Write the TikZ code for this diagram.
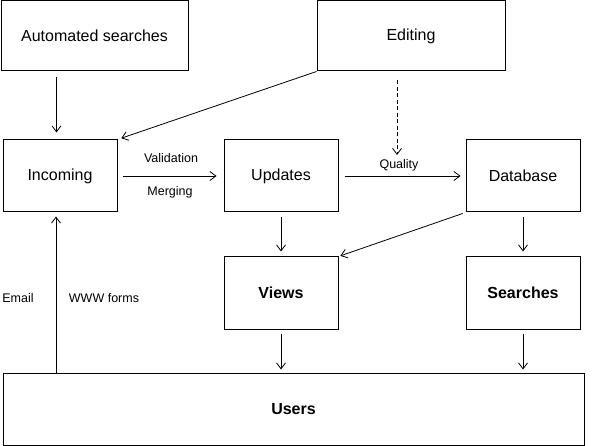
\documentclass[tikz,border=0pt]{standalone}
\usepackage{fontspec}
\setmainfont{Liberation Sans}
\usetikzlibrary{arrows.meta,calc}
\begin{document}
\begin{tikzpicture}[x=1pt,y=-1pt,
  box/.style={draw,line width=1pt,minimum width=114pt,minimum height=72pt,inner sep=0pt,font=\fontsize{16}{18}\selectfont},
  bbox/.style={box,font=\fontsize{16}{18}\selectfont\bfseries},
  arr/.style={line width=0.8pt,-{Straight Barb[length=6pt,width=9pt]}},
  lab/.style={inner sep=0pt,font=\fontsize{12.5}{14}\selectfont}]
\useasboundingbox (0,0) rectangle (594,446);
\node[box,minimum width=187pt,minimum height=70pt] (auto) at (94.5,36) {Automated searches};
\node[box,minimum width=188pt,minimum height=70pt] (edit) at (411,36) {Editing};
\node[box] (inc) at (60,176) {Incoming};
\node[box] (upd) at (281,176) {Updates};
\node[box] (db) at (523,176) {Database};
\node[bbox] (views) at (281,293) {Views};
\node[bbox] (search) at (523,293) {Searches};
\node[bbox,minimum width=581pt] (users) at (293.5,409) {Users};
\coordinate (q) at (397,155);
\draw[arr] ($(auto.south -| inc.north)+(-3.5,6)$) -- ($(inc.north)+(-3.5,-7)$);
\draw[arr,shorten >=4pt] (edit.south west) -- (inc.north east);
\draw[arr,dashed,dash pattern=on 4pt off 2.5pt] (edit.south -| q) ++(0,9) -- (q);
\draw[arr,shorten <=5pt,shorten >=7pt] (inc.east) -- (upd.west);
\draw[arr,shorten <=6pt,shorten >=5pt] (upd.east) -- (db.west);
\draw[arr,shorten <=5pt,shorten >=5pt] (upd.south) -- (views.north);
\draw[arr,shorten <=3pt,shorten >=2pt] (db.south west) -- (views.north east);
\draw[arr,shorten <=5pt,shorten >=5pt] (db.south) -- (search.north);
\draw[arr,shorten <=4pt,shorten >=3pt] (views.south) -- (views.south |- users.north);
\draw[arr,shorten <=4pt,shorten >=3pt] (search.south) -- (search.south |- users.north);
\draw[arr,shorten >=4pt] ($(users.north -| inc.south)+(-4,0)$) -- ($(inc.south)+(-4,0)$);
\node[lab] (val) at (171,158) {Validation};
\node[lab] (mer) at (170,192) {Merging};
\node[lab] (qual) at (399,165) {Quality};
\node[lab] (email) at (18,298) {Email};
\node[lab] (www) at (104,298) {WWW forms};
\end{tikzpicture}
\end{document}
